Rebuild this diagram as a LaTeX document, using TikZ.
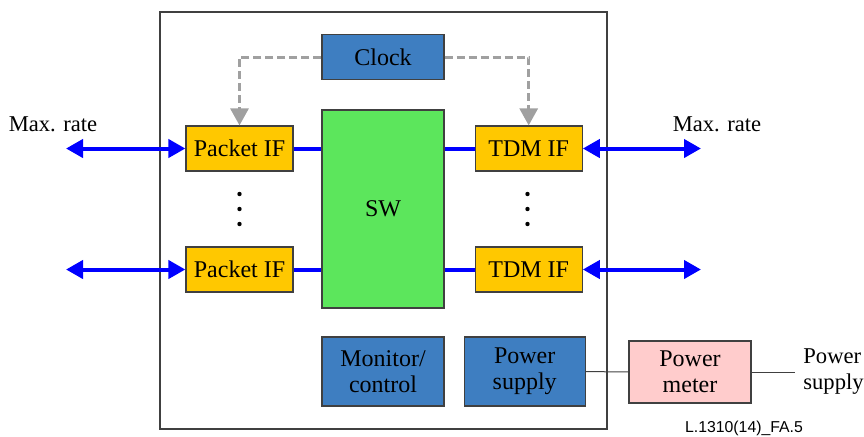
\documentclass[tikz,border=0pt]{standalone}
\usepackage{fontspec}
\setmainfont{Liberation Serif}
\newfontfamily\etiqfont{Liberation Sans}
\usetikzlibrary{positioning,arrows.meta}

\definecolor{azulbloque}{RGB}{62,126,193}
\definecolor{amarillo}{RGB}{255,200,0}
\definecolor{verde}{RGB}{92,230,92}
\definecolor{rosa}{RGB}{255,204,204}
\definecolor{gris}{RGB}{160,160,160}

\begin{document}
\begin{tikzpicture}[x=0.5pt,y=-0.5pt]

	\tikzstyle{bloque} = [rectangle,draw=black!75,line width=0.6pt,align=center,inner sep=0pt,
		font=\fontsize{12}{13}\selectfont]
	\tikzstyle{azul} = [bloque,fill=azulbloque,minimum width=61pt]
	\tikzstyle{interfaz} = [bloque,fill=amarillo,minimum width=53.5pt,minimum height=22.5pt]
	\tikzstyle{flecha} = [{Triangle[length=8.5pt,width=9pt]}-{Triangle[length=8.5pt,width=9pt]},blue,line width=2pt]
	\tikzstyle{enlace} = [blue,line width=2pt]
	\tikzstyle{reloj} = [-{Triangle[length=8.5pt,width=9pt]},gris,line width=1.5pt,dash pattern=on 4pt off 2pt]
	\tikzstyle{texto} = [font=\fontsize{11.3}{13}\selectfont,align=left,inner sep=0pt]

	\useasboundingbox (0,0) rectangle (864,436);
	\draw[black!75,line width=0.6pt] (160,12) rectangle (607,429);

	\node[bloque,fill=verde,minimum width=61pt,minimum height=99pt] (sw) at (383,209) {SW};
	\node[azul,minimum height=22.5pt,above=14.5pt of sw] (clock) {Clock};
	\node[interfaz] (pif1) at (239.5,148.5) {Packet IF};
	\node[interfaz,below=37.4pt of pif1] (pif2) {Packet IF};
	\node[interfaz,right=90.5pt of pif1] (tdm1) {TDM IF};
	\node[interfaz,right=90.5pt of pif2] (tdm2) {TDM IF};
	\node[azul,minimum height=34.5pt] (mon) at (383,371.5) {Monitor/\\control};
	\node[azul,minimum width=60.5pt,minimum height=34.5pt,right=9.5pt of mon] (ps) {Power\\supply};
	\node[bloque,fill=rosa,minimum width=61pt,minimum height=31pt] (pm) at (690,372) {Power\\meter};

	\node[texto] (rateL) at (53,124) {Max. rate};
	\node[texto] (rateR) at (717,124) {Max. rate};
	\node[texto,anchor=west] (supply) at (803,372) {Power\\supply};
	\node[font=\etiqfont\fontsize{7.9}{9}\selectfont,inner sep=0pt] (ref) at (744,428) {L.1310(14)\_FA.5};

	\coordinate (l1) at (66,148.5);
	\coordinate (r1) at (701,148.5);
	\coordinate (l2) at (pif2 -| l1);
	\coordinate (r2) at (tdm2 -| r1);
	\coordinate (fin) at (795,372);

	% puntos suspensivos
	\foreach \y in {194,209,224} {
		\fill (239.5,\y) circle (1.1pt);
		\fill (527.5,\y) circle (1.1pt);
	}

	\draw[flecha] (l1) -- (pif1);
	\draw[flecha] (l2) -- (pif2);
	\draw[flecha] (tdm1) -- (r1);
	\draw[flecha] (tdm2) -- (r2);
	\draw[enlace] (pif1) -- (pif1 -| sw.west);
	\draw[enlace] (pif2) -- (pif2 -| sw.west);
	\draw[enlace] (tdm1) -- (tdm1 -| sw.east);
	\draw[enlace] (tdm2) -- (tdm2 -| sw.east);

	\draw[reloj] (clock.west) -| (pif1.north);
	\draw[reloj] (clock.east) -| (tdm1.north);

	\draw[black!75,line width=0.5pt] (ps) -- (pm);
	\draw[black!75,line width=0.5pt] (pm) -- (fin);

\end{tikzpicture}
\end{document}
